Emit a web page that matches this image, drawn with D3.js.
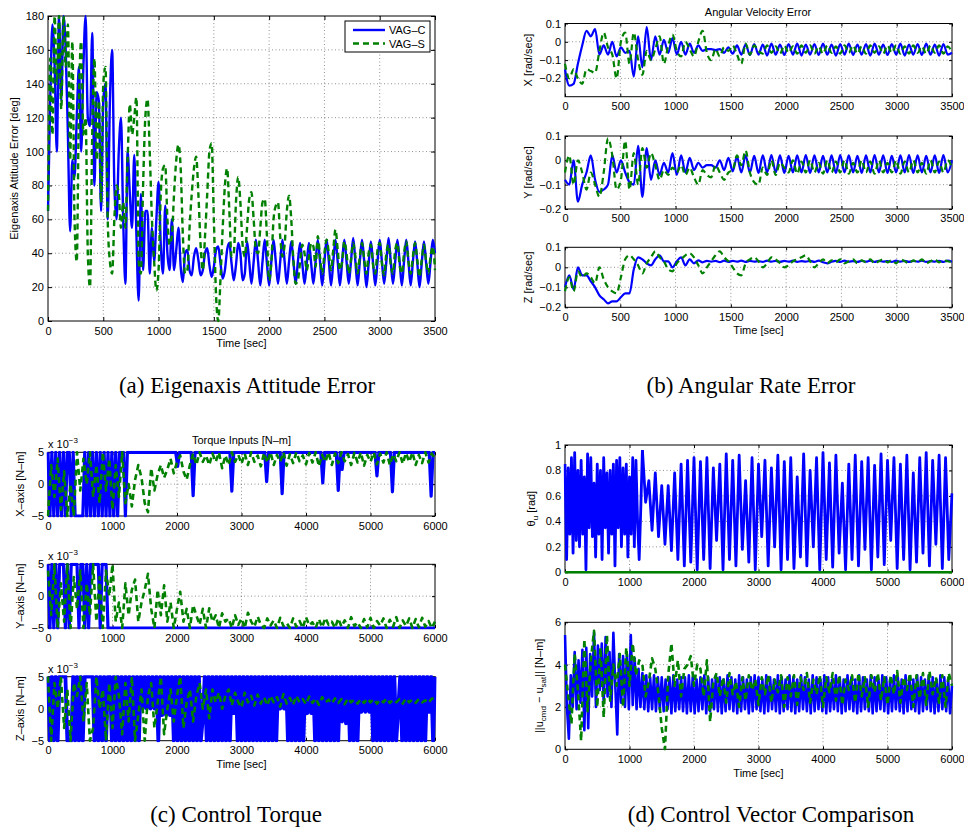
<!DOCTYPE html>
<html>
<head>
<meta charset="utf-8">
<script src="https://cdn.jsdelivr.net/npm/d3@7"></script>
<style>
  body { margin: 0; background: #fff; }
  svg { display: block; }
  .tick text, .lbl { font-family: "Liberation Sans", Arial, sans-serif; font-size: 11px; fill: #000; }
  .tick line { stroke: #000; }
  .grid { stroke: #000; stroke-opacity: 0.55; stroke-dasharray: 1,2.5; stroke-width: 0.8; }
  .cap { font-family: "Liberation Serif", serif; font-size: 23px; }
</style>
</head>
<body>
<div id="fig"></div>
<script>
// (a) eigenaxis attitude error [deg], one sample every 20 s from 0 to 3500 s
const aBlue = [65,130,175,150,100,180,130,180,160,110,
53,95,85,120,150,100,150,180,120,115,
170,80,135,130,65,130,140,60,130,160,
80,60,100,120,60,22,100,75,55,98,
50,12,75,30,65,65,28,55,35,60,
82,45,28,68,40,30,60,30,42,55,
32,23,40,42,30,27,38,43,36,27,
30,40,43,33,26,32,42,44,34,25,
30,42,46,34,24,33,46,40,24,28,
47,35,22,35,48,35,21,35,48,34,
21,35,48,35,22,35,48,35,22,35,
47,35,22,35,46,34,22,34,46,34,
22,35,48,35,21,35,48,35,21,35,
48,35,21,35,48,35,22,35,49,35,
21,35,48,35,20,34,47,34,21,35,
48,35,22,35,49,35,22,35,48,35,
21,35,48,35,21,35,47,34,20,34,
47,34,22,35,48,40];
const aGreen = [65,155,110,180,140,180,125,180,150,175,
95,165,60,35,130,165,110,120,40,20,
110,155,95,130,70,140,150,60,35,28,
60,80,75,55,70,55,95,128,110,120,
132,35,28,80,120,131,100,60,35,18,
30,75,90,92,60,45,50,75,95,104,
90,50,28,30,55,75,90,97,75,45,
30,50,75,100,105,60,15,0,25,55,
80,90,65,38,40,70,85,70,45,38,
55,72,76,60,42,40,55,70,72,50,
24,35,60,68,70,50,38,45,65,74,
60,35,22,24,35,45,40,30,38,46,
44,32,50,38,28,40,48,40,30,42,
54,42,30,35,47,40,28,36,46,38,
28,38,46,36,28,40,45,33,28,42,
46,34,27,40,45,33,28,42,46,33,
28,40,47,35,28,38,46,36,26,36,
45,35,28,38,44,30];

// (b) angular velocity error [rad/sec], 91 samples from 0 to 3500 s
const bXBlue = [-0.15,-0.24,-0.23,-0.12,-0.02,0.06,0.03,0.07,-0.07,-0.02,
-0.07,0.0,-0.08,-0.03,-0.06,-0.05,-0.19,0.03,-0.14,0.08,
-0.1,0.03,-0.07,0.01,-0.06,0.02,-0.07,0.0,-0.07,-0.01,
-0.06,-0.02,-0.05,-0.04,-0.04,-0.045,-0.04,-0.06,-0.03,-0.065,
-0.02,-0.07,-0.015,-0.072,-0.012,-0.07,-0.015,-0.075,-0.01,-0.07,
-0.015,-0.072,-0.012,-0.07,-0.01,-0.075,-0.015,-0.07,-0.012,-0.072,
-0.01,-0.07,-0.015,-0.075,-0.012,-0.07,-0.01,-0.072,-0.015,-0.07,
-0.012,-0.075,-0.01,-0.07,-0.015,-0.072,-0.012,-0.07,-0.01,-0.075,
-0.015,-0.07,-0.012,-0.072,-0.01,-0.07,-0.015,-0.075,-0.012,-0.07,
-0.06];
const bXGreen = [-0.12,-0.2,-0.15,-0.2,-0.23,-0.15,-0.16,-0.17,-0.05,0.05,
-0.03,-0.07,-0.2,0.0,0.05,-0.12,0.05,-0.1,-0.18,-0.05,
-0.1,-0.04,0.03,-0.12,-0.02,0.04,-0.05,-0.08,0.0,-0.04,
-0.08,0.0,0.06,-0.06,-0.1,-0.04,-0.08,-0.03,-0.05,-0.02,
-0.07,-0.12,-0.01,-0.07,-0.02,-0.05,-0.065,-0.02,-0.06,-0.025,
-0.065,-0.02,-0.06,-0.025,-0.065,-0.02,-0.06,-0.02,-0.065,-0.025,
-0.065,-0.02,-0.06,-0.025,-0.065,-0.02,-0.06,-0.02,-0.065,-0.025,
-0.065,-0.02,-0.06,-0.025,-0.065,-0.02,-0.06,-0.02,-0.065,-0.025,
-0.065,-0.02,-0.06,-0.025,-0.065,-0.02,-0.06,-0.02,-0.065,-0.025,
-0.06];
const bYBlue = [-0.08,-0.1,0.0,-0.17,-0.1,-0.05,0.02,-0.08,-0.13,-0.12,
-0.1,0.02,-0.05,0.0,-0.05,-0.09,-0.1,0.06,-0.15,0.05,
-0.08,0.0,-0.06,-0.01,-0.05,0.03,-0.06,0.02,-0.05,0.01,
-0.04,-0.01,-0.03,-0.02,-0.02,-0.03,0.0,-0.04,0.01,-0.045,
0.015,-0.05,0.02,-0.05,0.018,-0.052,0.02,-0.05,0.022,-0.05,
0.02,-0.052,0.018,-0.05,0.02,-0.05,0.022,-0.052,0.02,-0.05,
0.018,-0.05,0.02,-0.052,0.022,-0.05,0.02,-0.05,0.018,-0.052,
0.02,-0.05,0.022,-0.05,0.02,-0.052,0.018,-0.05,0.02,-0.05,
0.022,-0.052,0.02,-0.05,0.018,-0.05,0.02,-0.052,0.022,-0.05,
0.0];
const bYGreen = [-0.05,0.02,-0.1,0.0,-0.05,-0.12,-0.05,-0.1,-0.15,-0.05,
0.09,0.02,-0.12,-0.08,0.08,-0.12,0.03,-0.1,0.05,-0.03,
0.03,-0.02,-0.08,-0.04,-0.06,-0.03,-0.05,-0.02,-0.06,-0.03,
-0.07,-0.1,-0.04,-0.06,-0.07,-0.02,-0.05,-0.08,-0.05,-0.04,
0.02,-0.02,0.04,-0.05,-0.09,-0.1,-0.03,-0.06,0.0,-0.06,
-0.01,-0.03,-0.05,0.0,-0.055,-0.005,-0.05,0.0,-0.05,-0.01,
-0.055,0.0,-0.05,-0.005,-0.05,0.0,-0.055,-0.01,-0.05,0.0,
-0.05,-0.005,-0.055,0.0,-0.05,-0.01,-0.05,0.0,-0.055,-0.005,
-0.05,0.0,-0.05,-0.01,-0.055,0.0,-0.05,-0.005,-0.05,0.0,
-0.03];
const bZBlue = [-0.1,-0.04,-0.11,0.0,-0.04,-0.04,-0.07,-0.1,-0.14,-0.16,
-0.18,-0.17,-0.17,-0.15,-0.13,-0.13,-0.01,0.05,0.04,0.02,
0.01,0.04,0.06,0.03,0.03,0.0,0.03,0.05,0.01,0.04,
0.02,0.035,0.025,0.032,0.028,0.032,0.026,0.033,0.027,0.032,
0.028,0.033,0.027,0.032,0.028,0.031,0.027,0.033,0.028,0.032,
0.027,0.032,0.028,0.033,0.027,0.031,0.028,0.032,0.027,0.033,
0.025,0.02,0.028,0.032,0.027,0.033,0.028,0.031,0.027,0.032,
0.028,0.033,0.027,0.032,0.028,0.031,0.027,0.033,0.028,0.032,
0.027,0.032,0.028,0.033,0.027,0.031,0.028,0.032,0.027,0.033,
0.028];
const bZGreen = [-0.12,-0.05,-0.12,-0.02,-0.05,-0.03,-0.05,-0.08,0.0,-0.06,
-0.1,-0.12,-0.13,-0.05,0.04,0.06,0.04,0.01,-0.03,0.02,
0.05,0.08,0.05,0.03,-0.01,-0.02,0.02,0.04,0.06,0.07,
0.05,0.01,-0.03,0.0,0.03,0.06,0.08,0.05,0.03,0.0,
-0.03,-0.04,0.02,0.04,0.05,0.03,0.0,0.02,0.05,0.04,
0.02,0.0,0.01,0.03,0.04,0.05,0.06,0.03,0.0,0.02,
0.04,0.02,0.035,0.025,0.04,0.02,0.03,0.04,0.02,0.035,
0.025,0.04,0.02,0.03,0.04,0.025,0.035,0.02,0.04,0.03,
0.02,0.035,0.025,0.04,0.02,0.03,0.04,0.025,0.035,0.03,
0.025];

// (c) torque inputs [x 1e-3 N-m]; blue every 30 s, green every 50 s, 0 to 6000 s
const cXBlue = [5,-5,5,-5,5,-5,5,-5,5,-5,
5,5,-5,5,-5,-5,-5,-5,-5,5,
-5,5,-5,5,-5,5,-5,5,-5,5,
-5,5,-5,5,-5,5,-5,5,5,5,
-5,5,5,5,5,5,5,5,5,5,
5,5,5,5,5,5,5,5,5,5,
5,5,5,5,5,5,5,2.8,5,5,
5,5,5,5,5,-1.8,5,5,5,5,
5,5,5,5,5,5,5,5,5,5,
5,5,5,5,5,-1.1,5,5,5,5,
5,5,5,5,5,5,5,5,5,5,
5,5,5,0.4,5,5,5,5,5,5,
5,-1.5,5,5,5,5,5,5,5,5,
5,5,5,5,5,5,5,5,5,5,
5,5,0.2,5,5,5,5,5,5,5,
-1,5,2.3,5,5,5,5,5,5,5,
5,5,5,5,5,5,5,5,5,5,
1.3,5,5,5,5,5,5,5,-1.2,5,
5,5,5,5,5,5,5,5,5,5,
5,5,5,5,5,5,5,5,-1.9,5,
5];
const cXGreen = [-5,3,-2,4,-4,2,-5,0,-5,5,
-1,4,0,5,-2,3,-3,5,-1,4,
-4,3,-2,5,-3,0,-3.5,0.7,3,1,
-3,-4.4,2.5,-1,1.5,3,1,2.3,4,1.7,
3.5,4.5,2,0.7,3,4.8,3,5,3.5,4.5,
3,4.8,3.5,5,2.5,4.5,3,5,3.5,4.6,
3.2,4.8,3,5,3.5,4.5,2.8,4.9,3.4,5,
3,4.6,3.5,5,2.9,4.7,3.3,5,3.6,4.5,
3.1,4.9,3.4,5,2.8,4.6,3.5,5,3,4.8,
3.3,5,3.6,4.7,3,4.9,3.4,5,2.9,4.6,
3.5,5,3.1,4.8,3.4,5,3,4.7,3.6,5,
3.2,4.9,3.5,5,3,4.6,3.3,5,3.4,4.8,
4];
const cYBlue = [5,-5,5,-5,5,-5,5,5,5,-5,
5,-5,5,5,5,5,-5,5,5,-5,
5,-5,5,5,5,5,5,-5,5,5,
5,-5,-5,-5,-5,-5,-5,-5,-5,-5,
-5,-5,-5,-5,-5,-5,-5,-5,-5,-5,
-5,-5,-5,-5,-5,-5,-5,-5,-5,-5,
-5,-5,-5,-5,-5,-5,-5,-5,-5,-5,
-5,-5,-5,-5,-5,-5,-5,-5,-5,-5,
-5,-5,-5,-5,-5,-5,-5,-5,-5,-5,
-5,-5,-5,-5,-5,-5,-5,-5,-5,-5,
-5,-5,-5,-5,-5,-5,-5,-5,-5,-5,
-5,-5,-5,-5,-5,-5,-5,-5,-5,-5,
-5,-5,-5,-5,-5,-5,-5,-5,-5,-5,
-5,-5,-5,-5,-5,-5,-5,-5,-5,-5,
-5,-5,-5,-5,-5,-5,-5,-5,-5,-5,
-5,-5,-5,-5,-5,-5,-5,-5,-5,-5,
-5,-5,-5,-5,-5,-5,-5,-5,-5,-5,
-5,-5,-5,-5,-5,-5,-5,-5,-5,-5,
-5,-5,-5,-5,-5,-5,-5,-5,-5,-5,
-5,-5,-5,-5,-5,-5,-5,-5,-5,-5,
-5];
const cYGreen = [4,-3,5,-5,2,-4,5,-5,3,-2,
4,-5,2,-3,5,-4,3,-5,4,0,
5,-4,-1,-5,2,-3,1,2.6,-4,-1,
1,3.5,-2,-5,1,-3,1.7,-4,-1,-5,
-2,0.7,-4,-2,-5,-1.4,-3,-4.5,-2,-5,
-1.9,-4,-3,-5,-2.7,-4,-3.5,-5,-3,-4.5,
-3.5,-5,-2.6,-4,-4.8,-3.2,-4.5,-5,-3.5,-4.6,
-3.8,-5,-3.4,-4.7,-4.2,-5,-3.5,-4.8,-3.9,-5,
-3.3,-4.6,-4.1,-5,-3.6,-4.9,-3.4,-4.5,-4,-5,
-3.5,-4.8,-3.8,-5,-3.3,-4.7,-4.1,-5,-3.6,-4.9,
-3.4,-5,-3.9,-4.6,-3.5,-5,-3.7,-4.8,-3.3,-5,
-3.8,-4.7,-3.5,-5,-3.6,-4.9,-3.4,-4.8,-3.9,-5,
-4];
const cZBlue = [5,-5,5,-5,5,-5,5,5,5,5,
-5,-5,-5,5,-5,5,-5,5,-5,5,
5,5,5,5,-5,5,-5,5,-5,5,
-5,5,5,-5,5,-5,5,-5,5,-5,
5,-5,5,-5,5,-5,5,-5,5,0,
5,0,5,0,5,0,5,-5,5,-1,
5,-1,5,-1,5,-5,5,-5,5,-5,
5,-5,5,-5,5,-5,5,-5,5,-5,
-1.5,5,-5,5,-5,5,-5,5,-5,5,
-5,5,-5,5,-5,5,-0.7,5,-5,5,
-5,5,-5,5,-5,5,-5,5,-5,5,
-5,5,-5,5,-5,5,-5,5,-5,5,
0,5,0,5,-5,5,-5,5,-5,5,
-5,5,-5,5,-0.7,5,-0.7,5,-5,5,
-5,5,-5,5,-5,5,-5,5,-5,5,
-5,5,-2,5,-2.3,5,-5,5,-5,5,
-5,5,-0.5,5,-0.5,5,-0.5,5,-5,5,
-5,5,-5,5,-5,5,-5,5,-5,5,
-5,0,5,-5,5,-5,5,-5,5,-5,
5,-5,5,-5,5,-5,5,-0.5,5,-5,
5];
const cZGreen = [5,-5,4,0,5,-3,3,-5,4,2,
5,-2,4,-5,-3,5,0,3,-5,4,
-3,5,2,-4,4,-2,5,-5,-1,3,
-5,2,4,-3,1,5,-4,0,3,-2,
2,5,-3,1,3,-2,2,4,0,3,
-1.5,3,1,2.5,0,2,3,0.5,2.5,1,
0.2,2.5,1,2,0.5,2.2,0.8,1.8,0.5,2,
1,1.8,0.3,2.3,0.8,1.7,0.6,2,1,1.5,
0.7,1.9,0.9,1.6,0.6,1.8,1,1.4,0.8,1.6,
0.9,1.5,0.7,1.6,1,1.4,0.8,1.5,0.9,1.6,
1,1.5,0.8,1.4,1,1.6,0.9,1.4,1,1.5,
0.8,1.6,1,1.4,0.9,1.5,1,1.3,0.9,1.6,
1.5];

// (d) control vector comparison
// theta: every 25 s from 0 to 1200 s, then every 50 s from 1200 to 6000 s
const dThetaEarly = [0.85,0.1,0.82,0.3,0.9,0.15,0.94,0.25,0.8,0.2,
0.88,0.3,0.75,0.02,0.93,0.35,0.9,0.28,0.7,0.12,
0.85,0.3,0.8,0.1,0.9,0.35,0.78,0.15,0.8,0.3,
0.85,0.05,0.88,0.35,0.9,0.2,0.82,0.3,0.85,0.12,
0.75,0.3,0.9,0.2,0.88,0.4,0.1,0.5,0.96];
const dThetaLate = [0.96,0.55,0.72,0.33,0.78,0.28,
0.68,0.22,0.68,0.17,0.78,0.1,0.85,0.05,0.88,0.08,
0.9,0.02,0.87,0.1,0.9,0.03,0.82,0.25,0.85,0.02,
0.93,0.1,0.88,0.05,0.92,0.18,0.72,0.08,0.9,0.02,
0.85,0.28,0.88,0.05,0.82,0.2,0.92,0.02,0.87,0.1,
0.9,0.03,0.75,0.12,0.93,0.05,0.8,0.2,0.9,0.02,
0.94,0.1,0.86,0.04,0.92,0.15,0.7,0.02,0.85,0.1,
0.92,0.05,0.87,0.18,0.9,0.02,0.84,0.12,0.93,0.06,
0.88,0.25,0.9,0.03,0.85,0.1,0.92,0.02,0.78,0.08,
0.9,0.15,0.94,0.05,0.88,0.22,0.92,0.03,0.9,0.1,
0.62];
const dThetaGreen = [0, 0];
// norm: blue every 30 s, green every 50 s, 0 to 6000 s
const dNormBlue = [5.4,2.0,0.5,3.5,2.0,4.6,1.9,4.2,2.2,4.7,
0.9,4.8,1.0,4.5,2.5,5.5,2.0,4.9,2.8,5.0,
2.2,5.3,2.5,4.6,2.0,5.5,3.0,0.7,4.5,2.2,
4.4,2.0,4.5,1.9,5.4,2.1,4.3,1.9,3.8,2.0,
3.6,1.9,3.5,1.8,3.4,1.9,3.5,1.8,3.4,1.9,
3.4,1.8,3.3,1.9,3.4,1.7,3.5,1.8,3.3,1.9,
3.4,1.8,3.4,1.7,3.5,1.8,3.4,1.7,3.3,1.8,
3.4,1.9,3.5,1.7,3.4,1.8,3.3,1.9,3.5,1.8,
3.4,1.7,3.3,1.8,3.5,1.9,3.4,1.8,3.3,1.7,
3.5,1.8,3.4,1.9,3.3,1.7,3.4,1.8,3.5,1.9,
3.4,1.8,3.3,1.7,3.5,1.8,3.4,1.9,3.3,1.8,
3.5,1.7,3.4,1.8,3.3,1.9,3.5,1.8,3.4,1.7,
3.3,1.8,3.5,1.9,3.4,1.8,3.3,1.7,3.5,1.8,
3.4,1.9,3.3,1.8,3.5,1.7,3.4,1.8,3.3,1.9,
3.5,1.8,3.4,1.7,3.3,1.8,3.5,1.9,3.4,1.8,
3.3,1.7,3.5,1.8,3.4,1.9,3.3,1.8,3.5,1.7,
3.4,1.8,3.3,1.9,3.5,1.8,3.4,1.7,3.3,1.8,
3.5,1.9,3.4,1.8,3.3,1.7,3.5,1.8,3.4,1.9,
3.3,1.8,3.5,1.7,3.4,1.8,3.3,1.9,3.5,1.8,
3.4,1.7,3.3,1.8,3.5,1.9,3.4,1.8,3.3,1.7,
3.0];
const dNormGreen = [4.0,2.5,1.2,4.5,2.8,0.4,5.2,1.8,4.2,5.6,
2.0,4.8,1.5,5.4,2.3,4.0,3.0,4.5,2.0,4.8,
3.0,5.0,3.5,4.2,4.0,2.5,3.2,4.3,3.8,2.6,
1.0,0.0,3.5,5.0,3.0,4.2,2.5,3.8,4.0,4.4,
3.0,4.0,3.8,2.5,4.2,1.3,3.2,3.6,2.5,3.4,
2.2,3.6,2.6,3.2,2.0,3.4,2.3,3.5,2.8,3.3,
2.1,3.4,2.6,3.5,2.2,3.3,2.7,3.5,2.0,3.4,
2.5,3.5,2.1,3.4,2.8,3.6,2.2,3.3,2.6,3.5,
2.0,3.4,2.7,3.6,2.3,3.5,2.1,3.3,2.8,3.5,
2.2,3.6,2.5,3.4,2.0,3.5,2.7,3.6,2.3,3.4,
2.1,3.5,2.6,3.7,2.2,3.4,2.8,3.6,2.0,3.5,
2.4,3.6,2.1,3.7,2.6,3.4,2.2,3.5,2.0,3.6,
3.0];

const ticks3500 = [0,500,1000,1500,2000,2500,3000,3500];
const ticks6000 = [0,1000,2000,3000,4000,5000,6000];
const BLUE = "#0000ff", GREEN = "#008000";

const svg = d3.select("#fig").append("svg").attr("width", 964).attr("height", 828);
let clipN = 0;

function panel(o) {
  const x = d3.scaleLinear().domain(o.xd).range([o.l, o.r]);
  const y = d3.scaleLinear().domain(o.yd).range([o.b, o.t]);
  const g = svg.append("g");
  const tl = o.tl || 3;
  const inside = (v, d) => v > Math.min(...d) + 1e-9 && v < Math.max(...d) - 1e-9;

  g.append("g").selectAll("line").data(o.xt.filter(v => inside(v, o.xd))).join("line")
    .attr("class", "grid").attr("x1", d => x(d)).attr("x2", d => x(d)).attr("y1", o.t).attr("y2", o.b);
  g.append("g").selectAll("line").data(o.yt.filter(v => inside(v, o.yd))).join("line")
    .attr("class", "grid").attr("y1", d => y(d)).attr("y2", d => y(d)).attr("x1", o.l).attr("x2", o.r);

  g.append("rect").attr("x", o.l).attr("y", o.t).attr("width", o.r - o.l).attr("height", o.b - o.t)
    .attr("fill", "none").attr("stroke", "#000").attr("stroke-width", 1);

  const bx = g.append("g").attr("transform", `translate(0,${o.b})`)
    .call(d3.axisBottom(x).tickValues(o.xt).tickSizeInner(-tl).tickSizeOuter(0).tickPadding(o.xpad || 6).tickFormat(d3.format("d")));
  const tx = g.append("g").attr("transform", `translate(0,${o.t})`)
    .call(d3.axisTop(x).tickValues(o.xt).tickSizeInner(-tl).tickSizeOuter(0).tickFormat(""));
  const ly = g.append("g").attr("transform", `translate(${o.l},0)`)
    .call(d3.axisLeft(y).tickValues(o.yt).tickSizeInner(-tl).tickSizeOuter(0).tickPadding(4).tickFormat(o.yf || d3.format("")));
  const ry = g.append("g").attr("transform", `translate(${o.r},0)`)
    .call(d3.axisRight(y).tickValues(o.yt).tickSizeInner(-tl).tickSizeOuter(0).tickFormat(""));
  [bx, tx, ly, ry].forEach(a => { a.select(".domain").remove(); a.attr("font-family", null).attr("font-size", null); });

  const id = "clip" + (clipN++);
  svg.append("clipPath").attr("id", id).append("rect")
    .attr("x", o.l - 1.5).attr("y", o.t - 1.5).attr("width", o.r - o.l + 3).attr("height", o.b - o.t + 3);
  const lines = g.append("g").attr("clip-path", `url(#${id})`);
  o.series.forEach(s => {
    const span = s.span || o.xd;
    const dt = (span[1] - span[0]) / (s.v.length - 1);
    const line = d3.line().x((d, i) => x(span[0] + i * dt)).y(d => y(d)).curve(s.curve || d3.curveLinear);
    lines.append("path").datum(s.v).attr("d", line)
      .attr("fill", "none").attr("stroke", s.c).attr("stroke-width", s.w || 2.4)
      .attr("stroke-linejoin", "round")
      .attr("stroke-dasharray", s.dash ? "6,4" : null);
  });

  if (o.ylab) {
    const t = g.append("text").attr("class", "lbl").attr("text-anchor", "middle")
      .attr("transform", `translate(${o.ylx},${(o.t + o.b) / 2}) rotate(-90)`);
    o.ylab.forEach(p => t.append("tspan").attr("dy", p.dy || 0).attr("font-size", p.sub ? 8 : null).text(p.s));
  }
  if (o.xlab) {
    g.append("text").attr("class", "lbl").attr("text-anchor", "middle")
      .attr("x", (o.l + o.r) / 2).attr("y", o.xly).text(o.xlab);
  }
  if (o.exp) {
    const t = g.append("text").attr("class", "lbl").attr("x", o.l).attr("y", o.t - 4);
    t.append("tspan").text("x 10");
    t.append("tspan").attr("dy", -5).attr("font-size", 8).text("\u22123");
  }
  return { x, y, g };
}

const smooth = d3.curveMonotoneX;

// (a)
const pa = panel({ l: 48, r: 435, t: 16, b: 321, xd: [0, 3500], yd: [0, 180], tl: 4,
  xt: ticks3500, yt: [0,20,40,60,80,100,120,140,160,180],
  series: [{ v: aBlue, c: BLUE, curve: smooth }, { v: aGreen, c: GREEN, dash: true, curve: smooth }],
  ylab: [{ s: "Eigenaxis Attitude Error [deg]" }], ylx: 18, xlab: "Time [sec]", xly: 347 });
const leg = pa.g.append("g");
leg.append("rect").attr("x", 345).attr("y", 21).attr("width", 85).attr("height", 31)
  .attr("fill", "#fff").attr("stroke", "#000");
[["VAG\u2013C", BLUE, false, 30], ["VAG\u2013S", GREEN, true, 43.5]].forEach(([name, c, dash, yy]) => {
  leg.append("line").attr("x1", 353).attr("x2", 385).attr("y1", yy).attr("y2", yy)
    .attr("stroke", c).attr("stroke-width", 2.4).attr("stroke-dasharray", dash ? "6,4" : null);
  leg.append("text").attr("class", "lbl").attr("x", 389).attr("y", yy + 4).text(name);
});

// (b)
svg.append("text").attr("class", "lbl").attr("text-anchor", "middle").attr("x", 758).attr("y", 15.5).text("Angular Velocity Error");
panel({ l: 565, r: 952, t: 23.5, b: 96.7, xd: [0, 3500], yd: [-0.3, 0.1], xt: ticks3500, yt: [-0.2,-0.1,0,0.1], xpad: 5.5,
  series: [{ v: bXBlue, c: BLUE, w: 2.2, curve: smooth }, { v: bXGreen, c: GREEN, w: 2.2, dash: true, curve: smooth }],
  ylab: [{ s: "X [rad/sec]" }], ylx: 532 });
panel({ l: 565, r: 952, t: 136, b: 209, xd: [0, 3500], yd: [-0.2, 0.1], xt: ticks3500, yt: [-0.2,-0.1,0,0.1], xpad: 5.5,
  series: [{ v: bYBlue, c: BLUE, w: 2.2, curve: smooth }, { v: bYGreen, c: GREEN, w: 2.2, dash: true, curve: smooth }],
  ylab: [{ s: "Y [rad/sec]" }], ylx: 532 });
panel({ l: 565, r: 952, t: 247.3, b: 307.3, xd: [0, 3500], yd: [-0.2, 0.1], xt: ticks3500, yt: [-0.2,-0.1,0,0.1], xpad: 5.5,
  series: [{ v: bZBlue, c: BLUE, w: 2.2, curve: smooth }, { v: bZGreen, c: GREEN, w: 2.2, dash: true, curve: smooth }],
  ylab: [{ s: "Z [rad/sec]" }], ylx: 532, xlab: "Time [sec]", xly: 334 });

// (c)
svg.append("text").attr("class", "lbl").attr("text-anchor", "middle").attr("x", 241.5).attr("y", 444).text("Torque Inputs [N\u2013m]");
panel({ l: 48, r: 435, t: 452.3, b: 516, xd: [0, 6000], yd: [-5, 5], xt: ticks6000, yt: [-5,0,5], exp: true,
  series: [{ v: cXBlue, c: BLUE, w: 3.2 }, { v: cXGreen, c: GREEN, w: 2.6, dash: true }],
  ylab: [{ s: "X\u2013axis [N\u2013m]" }], ylx: 24 });
panel({ l: 48, r: 435, t: 564.3, b: 628, xd: [0, 6000], yd: [-5, 5], xt: ticks6000, yt: [-5,0,5], exp: true,
  series: [{ v: cYBlue, c: BLUE, w: 3.2 }, { v: cYGreen, c: GREEN, w: 2.6, dash: true }],
  ylab: [{ s: "Y\u2013axis [N\u2013m]" }], ylx: 24 });
panel({ l: 48, r: 435, t: 676.7, b: 740.7, xd: [0, 6000], yd: [-5, 5], xt: ticks6000, yt: [-5,0,5], exp: true,
  series: [{ v: cZBlue, c: BLUE, w: 3.8 }, { v: cZGreen, c: GREEN, w: 2.6, dash: true }],
  ylab: [{ s: "Z\u2013axis [N\u2013m]" }], ylx: 24, xlab: "Time [sec]", xly: 768 });

// (d)
panel({ l: 565, r: 952, t: 445, b: 572.3, xd: [0, 6000], yd: [0, 1], xt: ticks6000, yt: [0,0.2,0.4,0.6,0.8,1],
  series: [{ v: dThetaEarly, span: [0, 1200], c: BLUE, w: 2.8 }, { v: dThetaLate, span: [1200, 6000], c: BLUE, w: 2.8 },
           { v: dThetaGreen, c: GREEN, w: 2.8 }],
  ylab: [{ s: "\u03b8" }, { s: "u", sub: true, dy: 3 }, { s: " [rad]", dy: -3 }], ylx: 535 });
panel({ l: 565, r: 952, t: 622.3, b: 749.3, xd: [0, 6000], yd: [0, 6], xt: ticks6000, yt: [0,2,4,6],
  series: [{ v: dNormBlue, c: BLUE, w: 2.6 }, { v: dNormGreen, c: GREEN, w: 2.6, dash: true }],
  ylab: [{ s: "||u" }, { s: "cmd", sub: true, dy: 3 }, { s: " \u2212 u", dy: -3 }, { s: "sat", sub: true, dy: 3 }, { s: "|| [N\u2013m]", dy: -3 }],
  ylx: 543, xlab: "Time [sec]", xly: 777 });

// captions
[["(a) Eigenaxis Attitude Error", 247, 393], ["(b) Angular Rate Error", 751, 393],
 ["(c) Control Torque", 236, 822], ["(d) Control Vector Comparison", 771, 822]].forEach(([s, cx, cy]) => {
  svg.append("text").attr("class", "cap").attr("text-anchor", "middle").attr("x", cx).attr("y", cy).text(s);
});
</script>
</body>
</html>
